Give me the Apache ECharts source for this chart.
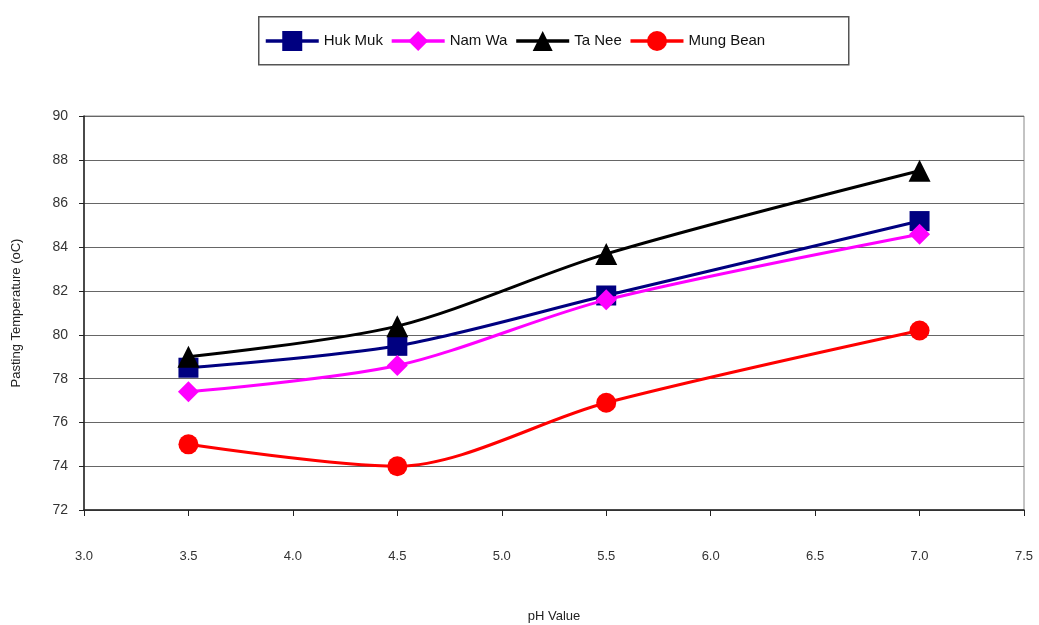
<!DOCTYPE html>
<html>
<head>
<meta charset="utf-8">
<script src="https://cdn.jsdelivr.net/npm/echarts@6/dist/echarts.min.js"></script>
<style>
  html, body { margin: 0; padding: 0; background: #fff; }
  #chart { width: 1039px; height: 625px; }
</style>
</head>
<body>
<div id="chart"></div>
<script>
// pH values at which pasting temperature was measured
const phValues = [3.5, 4.5, 5.5, 7.0];

// Pasting temperature (oC) for each variety
const hukMuk = [78.5, 79.5, 81.8, 85.2];
const namWa = [77.4, 78.6, 81.6, 84.6];
const taNee = [79.0, 80.4, 83.7, 87.5];
const mungBean = [75.0, 74.0, 76.9, 80.2];

const seriesNames = ['Huk Muk', 'Nam Wa', 'Ta Nee', 'Mung Bean'];
const seriesColors = ['#000080', '#ff00ff', '#000000', '#ff0000'];
const seriesSymbols = ['rect', 'diamond', 'triangle', 'circle'];
const seriesSizes = [20, 21, 22, 20];
const seriesValues = [hukMuk, namWa, taNee, mungBean];

const chart = echarts.init(document.getElementById('chart'));

const font = 'Liberation Sans, Arial, sans-serif';

chart.setOption({
  animation: false,
  backgroundColor: '#ffffff',
  textStyle: { fontFamily: font },
  // frame around the legend
  graphic: [{
    type: 'rect',
    left: 258,
    top: 16,
    shape: { width: 590, height: 48 },
    style: { fill: '#fff', stroke: '#555', lineWidth: 1.5 },
    z: -1
  }],
  legend: {
    top: 31,
    left: 264,
    padding: 0,
    itemWidth: 53,
    itemHeight: 25,
    itemGap: 7,
    lineStyle: { width: 3.5 },
    textStyle: { fontSize: 15, color: '#111', fontFamily: font },
    data: seriesNames
  },
  grid: {
    left: 84,
    right: 15,
    top: 116,
    bottom: 115,
    outerBoundsMode: 'none',
    containLabel: false,
    show: true,
    borderColor: '#888',
    borderWidth: 1
  },
  xAxis: {
    type: 'value',
    min: 3.0,
    max: 7.5,
    interval: 0.5,
    name: 'pH Value',
    nameLocation: 'middle',
    nameGap: 100,
    nameTextStyle: { fontSize: 13, color: '#222' },
    axisLine: { lineStyle: { color: '#222', width: 1.5 } },
    axisTick: { show: true, length: 6, lineStyle: { color: '#222' } },
    axisLabel: {
      margin: 40,
      fontSize: 13,
      color: '#333',
      formatter: v => v.toFixed(1)
    },
    splitLine: { show: false }
  },
  yAxis: {
    type: 'value',
    min: 72,
    max: 90,
    interval: 2,
    name: 'Pasting Temperature (oC)',
    nameLocation: 'middle',
    nameGap: 61,
    nameTextStyle: { fontSize: 13, color: '#222' },
    axisLine: { show: true, lineStyle: { color: '#222', width: 1.5 } },
    axisTick: { show: true, length: 5, lineStyle: { color: '#222' } },
    axisLabel: { margin: 16, fontSize: 14, color: '#333' },
    splitLine: { show: true, lineStyle: { color: '#666', width: 1 } }
  },
  series: seriesNames.map((name, i) => ({
    name: name,
    type: 'line',
    smooth: 0.3,
    data: phValues.map((x, j) => [x, seriesValues[i][j]]),
    symbol: seriesSymbols[i],
    symbolSize: seriesSizes[i],
    showAllSymbol: true,
    itemStyle: { color: seriesColors[i] },
    lineStyle: { color: seriesColors[i], width: 3 },
    z: 2 + i
  }))
});
</script>
</body>
</html>
